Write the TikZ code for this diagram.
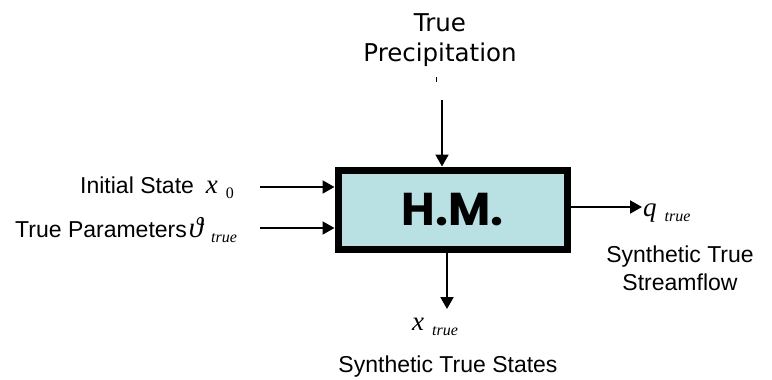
\documentclass[tikz,border=0pt]{standalone}
\usepackage{fontspec}
\setmainfont{Liberation Sans}
\newfontfamily\serifmath{Liberation Serif}
\newfontfamily\widesans{DejaVu Sans}
\newfontfamily\boxfont{Poppins}
\usetikzlibrary{arrows.meta}
\definecolor{hmblue}{RGB}{185,224,227}
\newcommand{\symlabel}[2]{{\fontsize{27}{27}\selectfont\serifmath\itshape #1}\hspace{8pt}\raisebox{-5pt}{\fontsize{16}{16}\selectfont\serifmath\itshape #2}}
\tikzset{
    flow/.style={
        draw,
        line width=2pt,
        -{Triangle[length=12pt,width=13pt]}
    },
    model/.style={
        draw,
        line width=7pt,
        fill=hmblue,
        minimum width=229pt,
        minimum height=79pt,
        inner sep=0pt,
        font=\boxfont\bfseries\fontsize{46}{46}\selectfont
    },
    txt/.style={
        inner sep=0pt,
        align=center,
        font=\fontsize{23}{28}\selectfont
    }
}
\begin{document}
\begin{tikzpicture}[x=1pt,y=-1pt]
    \useasboundingbox (0,0) rectangle (772,380);
    \node[model] (hm) at (452.5,209.5) {H.M.};

    % inputs
    \node[txt, font=\widesans\fontsize{24.5}{30}\selectfont] (prec) at (440,40) {True\\Precipitation};
    \draw[line width=1.5pt] (436.5,77) -- (436.5,82);
    \node[txt, anchor=base west] (init) at (80,193) {Initial State\hspace{12pt}\symlabel{x}{\upshape 0}};
    \node[txt, anchor=base west] (param) at (15,237) {True Parameters\hspace{2pt}\symlabel{\fontsize{29}{29}\selectfont ϑ}{true}};

    % outputs
    \node[txt, anchor=base west] (qt) at (643,216) {\symlabel{q}{true}};
    \node[txt] (stream) at (680,268) {Synthetic True\\Streamflow};
    \node[txt, anchor=base west] (xt) at (412,330) {\symlabel{x}{true}};
    \node[txt, anchor=base] (states) at (448,372) {Synthetic True States};

    \coordinate (p-in) at (442,100);
    \coordinate (x0-in) at (260,187);
    \coordinate (th-in) at (260,228);
    \coordinate (q-out) at (642,207);
    \coordinate (x-out) at (447,309);

    \draw[flow] (p-in) -- (p-in |- hm.north);
    \draw[flow] (x0-in) -- (x0-in -| hm.west);
    \draw[flow] (th-in) -- (th-in -| hm.west);
    \draw[flow] (q-out -| hm.east) -- (q-out);
    \draw[flow] (x-out |- hm.south) -- (x-out);
\end{tikzpicture}
\end{document}
